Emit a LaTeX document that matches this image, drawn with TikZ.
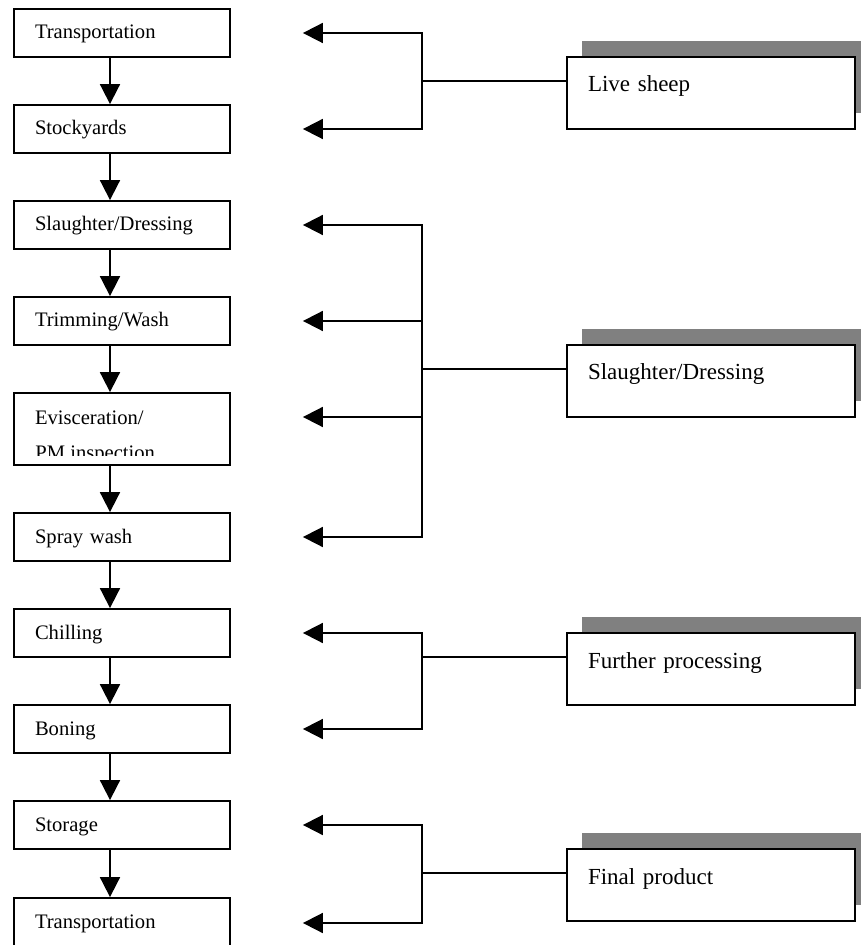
\documentclass[tikz,border=0pt]{standalone}
\usepackage{fontspec}
\setmainfont{Liberation Serif}
\usetikzlibrary{arrows.meta,shadows}

\begin{document}
\begin{tikzpicture}[
    x=0.5pt, y=-0.5pt,
    stepbox/.style={rectangle, draw, line width=0.9pt, text width=87pt, inner xsep=10.5pt, inner ysep=0pt, text height=15pt, text depth=9pt, align=left, font=\fontsize{10.3}{12}\selectfont},
    sourcebox/.style={rectangle, draw, fill=white, line width=0.9pt, text width=123pt, inner xsep=10.5pt, inner ysep=0pt, text height=17.5pt, text depth=18.5pt, align=left, font=\fontsize{11.5}{14}\selectfont, drop shadow={shadow xshift=7.5pt, shadow yshift=8pt, opacity=1, fill=black!50}},
    flow/.style={line width=0.9pt, -{Triangle[length=10pt, width=10pt]}},
    link/.style={line width=0.9pt}
]
% Diagramma di flusso: macellazione degli ovini e punti di campionamento
\useasboundingbox (0,0) rectangle (860,945);

\node[stepbox] (trans) at (122,33) {Transportation};
\node[stepbox] (stock) at (122,129) {Stockyards};
\node[stepbox] (slaugh) at (122,225) {Slaughter/Dressing};
\node[stepbox] (trim) at (122,321) {Trimming/Wash};
\node[stepbox, text height=15.5pt, text depth=20.5pt] (evisc) at (122,429) {Evisceration/};
\begin{scope}
    \clip (14,393) rectangle (230,455);
    \node[anchor=base west, inner sep=0pt, font=\fontsize{10.3}{12}\selectfont] (pmins) at (35,459.6) {PM inspection};
\end{scope}
\node[stepbox] (spray) at (122,537) {Spray wash};
\node[stepbox] (chill) at (122,633) {Chilling};
\node[stepbox] (bone) at (122,729) {Boning};
\node[stepbox] (store) at (122,825) {Storage};
\node[stepbox] (ship) at (122,922) {Transportation};

\node[sourcebox] (live) at (711,93) {Live sheep};
\node[sourcebox] (dress) at (711,381) {Slaughter/Dressing};
\node[sourcebox] (further) at (711,669) {Further processing};
\node[sourcebox] (final) at (711,885) {Final product};

% flusso principale
\draw[flow] ([xshift=-6pt]trans.south) -- ([xshift=-6pt]stock.north);
\draw[flow] ([xshift=-6pt]stock.south) -- ([xshift=-6pt]slaugh.north);
\draw[flow] ([xshift=-6pt]slaugh.south) -- ([xshift=-6pt]trim.north);
\draw[flow] ([xshift=-6pt]trim.south) -- ([xshift=-6pt]evisc.north);
\draw[flow] ([xshift=-6pt]evisc.south) -- ([xshift=-6pt]spray.north);
\draw[flow] ([xshift=-6pt]spray.south) -- ([xshift=-6pt]chill.north);
\draw[flow] ([xshift=-6pt]chill.south) -- ([xshift=-6pt]bone.north);
\draw[flow] ([xshift=-6pt]bone.south) -- ([xshift=-6pt]store.north);
\draw[flow] ([xshift=-6pt]store.south) -- ([xshift=-6pt]ship.north);

% collegamenti alle fasi
\draw[link] ([yshift=6pt]live.west) -- ++(-144,0) coordinate (forkA);
\draw[flow] (forkA) |- ([xshift=36pt]trans.east);
\draw[flow] (forkA) |- ([xshift=36pt]stock.east);

\draw[link] ([yshift=6pt]dress.west) -- ++(-144,0) coordinate (forkB);
\draw[flow] (forkB) |- ([xshift=36pt]slaugh.east);
\draw[flow] (forkB) |- ([xshift=36pt]trim.east);
\draw[flow] (forkB) |- ([xshift=36pt, yshift=6pt]evisc.east);
\draw[flow] (forkB) |- ([xshift=36pt]spray.east);

\draw[link] ([yshift=6pt]further.west) -- ++(-144,0) coordinate (forkC);
\draw[flow] (forkC) |- ([xshift=36pt]chill.east);
\draw[flow] (forkC) |- ([xshift=36pt]bone.east);

\draw[link] ([yshift=6pt]final.west) -- ++(-144,0) coordinate (forkD);
\draw[flow] (forkD) |- ([xshift=36pt]store.east);
\draw[flow] (forkD) |- ([xshift=36pt, yshift=-0.5pt]ship.east);
\end{tikzpicture}
\end{document}
